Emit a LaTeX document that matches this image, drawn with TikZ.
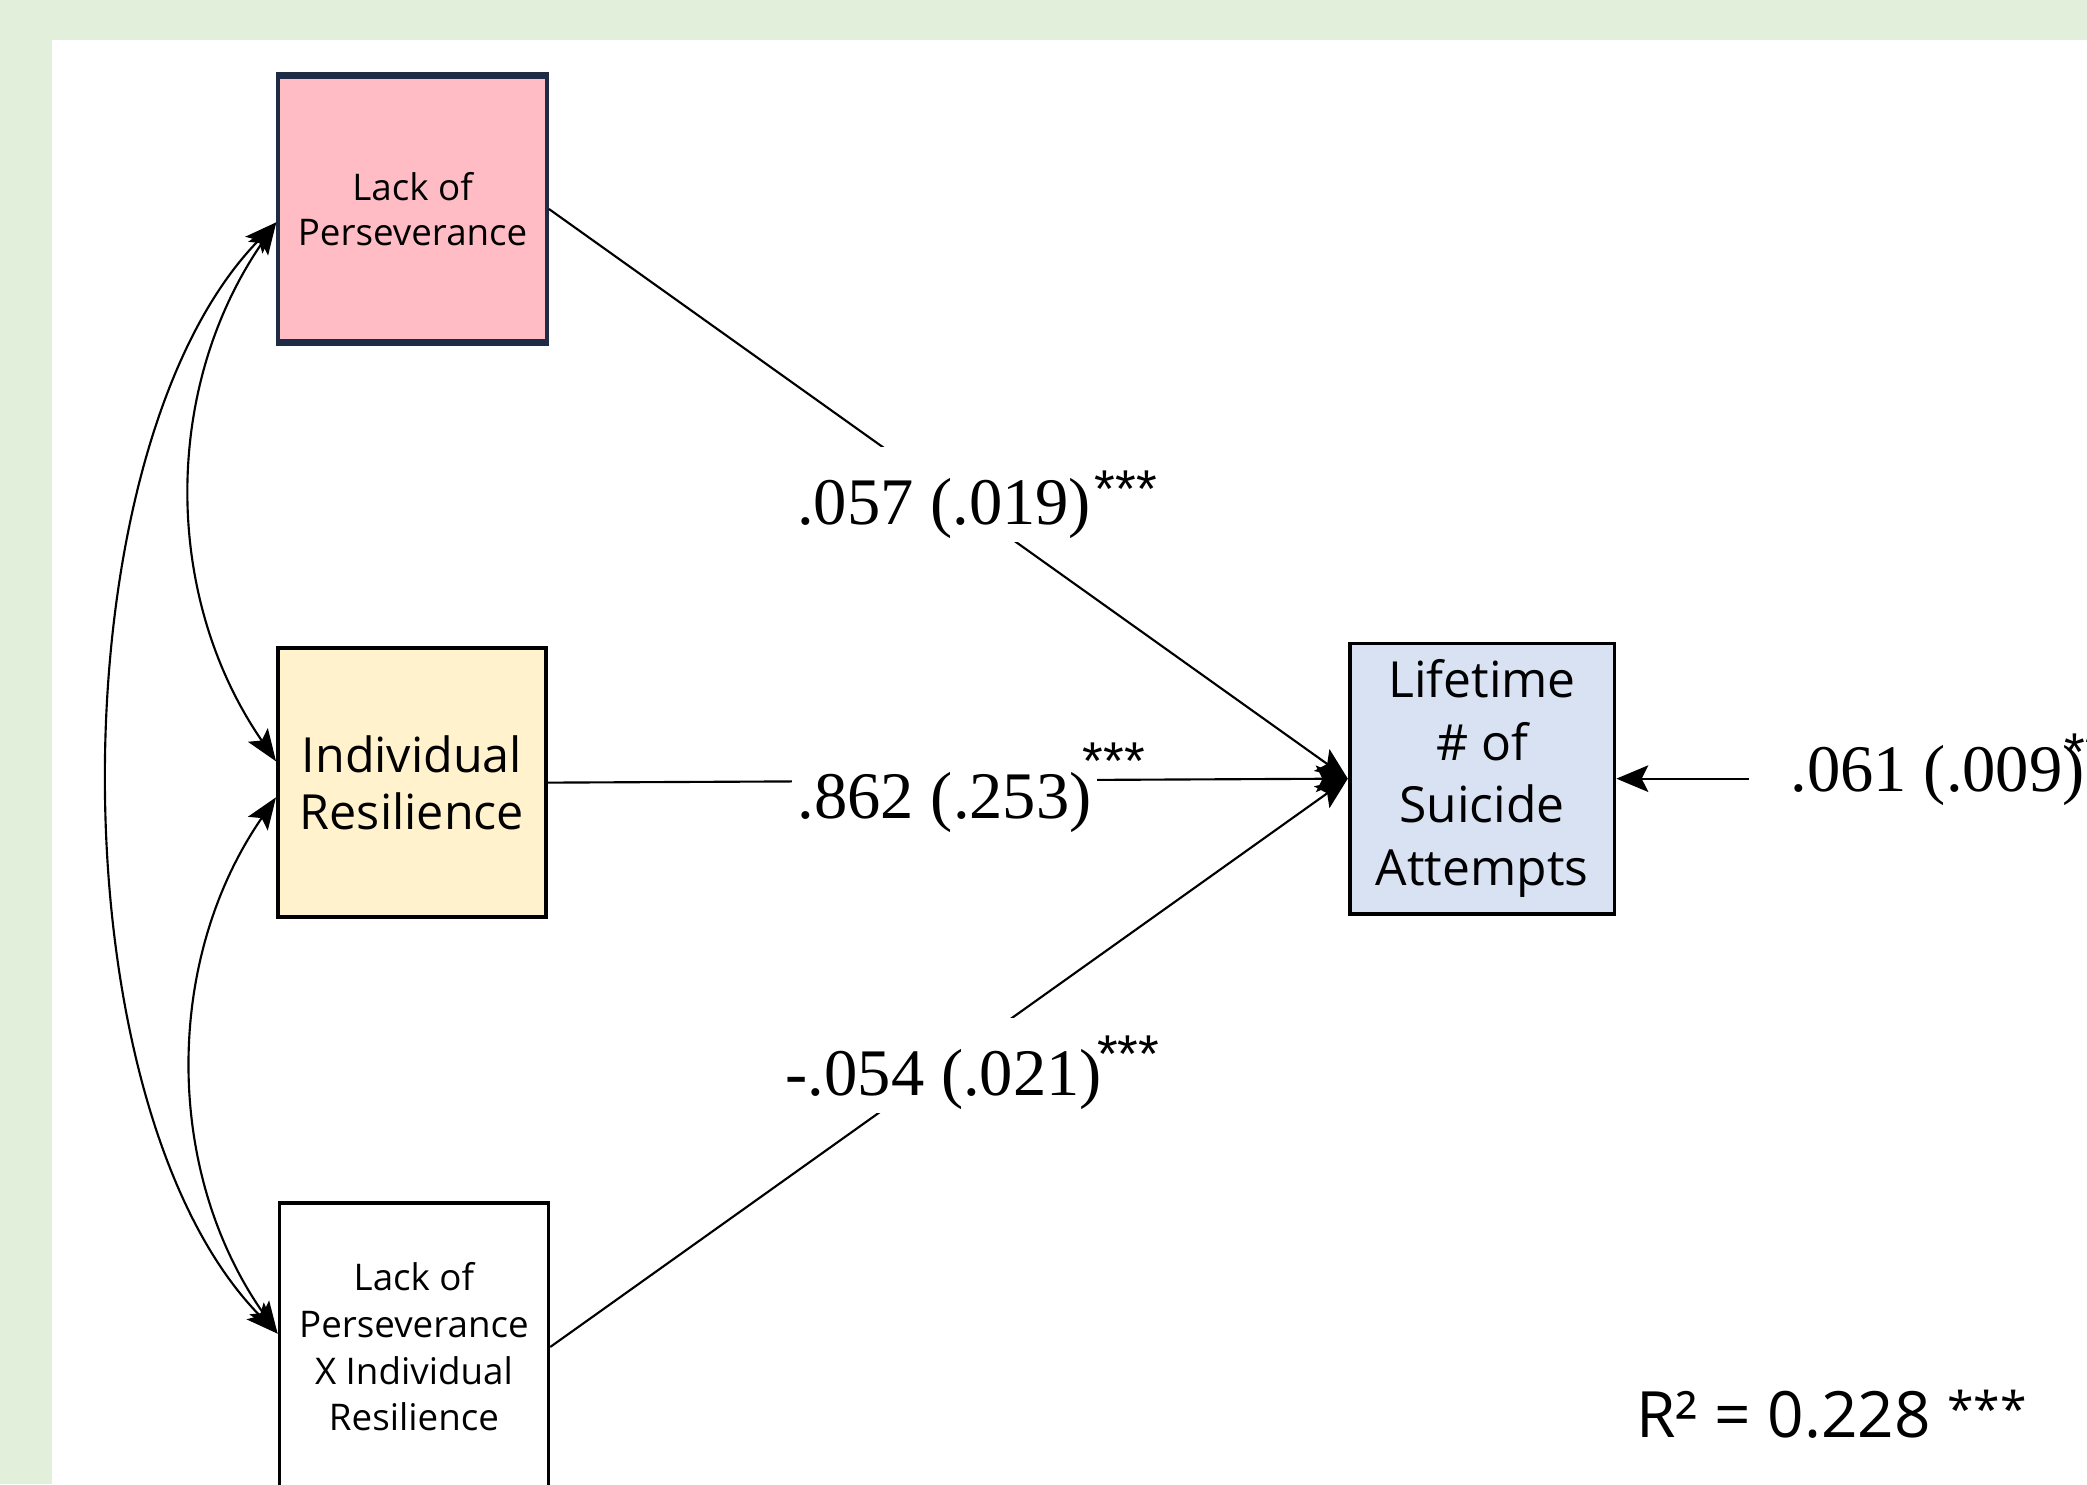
\documentclass[tikz,border=0pt]{standalone}
\usepackage{fontspec}
\setmainfont{Open Sans}
\newfontfamily\coeffont{Liberation Serif}
\newfontfamily\starfont{Liberation Sans}
\usetikzlibrary{arrows.meta,calc}

\definecolor{panelgreen}{HTML}{E2EFDA}
\definecolor{boxpink}{HTML}{FFBCC5}
\definecolor{boxyellow}{HTML}{FFF2CC}
\definecolor{boxblue}{HTML}{D9E2F3}
\definecolor{boxnavy}{HTML}{1F2A44}

\tikzset{
  varbox/.style={draw=black, line width=1.4pt, align=center, inner sep=0pt},
  regline/.style={line width=0.8pt, -{Stealth[length=12pt,width=10pt,inset=2.5pt]}},
  covline/.style={line width=0.8pt,
    {Stealth[length=12pt,width=9pt,inset=2.5pt]}-{Stealth[length=12pt,width=9pt,inset=2.5pt]}},
  coef/.style={font=\coeffont\fontsize{25}{30}\selectfont, inner xsep=2pt, inner ysep=0pt, anchor=base west},
  coefgap/.style={coef, fill=white, text height=29pt, text depth=6.5pt},
  stars/.style={font=\starfont\fontsize{20}{24}\selectfont, inner sep=0pt, anchor=base west},
}

\begin{document}
\begin{tikzpicture}[x=0.5pt,y=-0.5pt]
\useasboundingbox (0,0) rectangle (1568,1115);
\clip (0,0) rectangle (1568,1115);

% background and white panel
\fill[panelgreen] (0,0) rectangle (1568,1115);
\fill[white] (39,30) rectangle (1568,1115);

% observed variables
\node[varbox, draw=boxnavy, fill=boxpink, minimum width=101pt, minimum height=99pt,
      font=\fontsize{13.8}{17}\selectfont] (lp) at (310,157) {Lack of\\Perseverance};
\draw[boxnavy, line width=2.2pt] (lp.north west) -- (lp.north east);
\draw[boxnavy, line width=2.2pt] (lp.south west) -- (lp.south east);
\node[varbox, line width=1.6pt, fill=boxyellow, minimum width=100.5pt, minimum height=101pt,
      font=\fontsize{18.2}{21.5}\selectfont] (ir) at (309.5,588) {Individual\\Resilience};
\node[varbox, fill=white, minimum width=101pt, minimum height=108pt,
      font=\fontsize{13.8}{17.5}\selectfont] (int) at (311,1012)
      {Lack of\\Perseverance\\X Individual\\Resilience};
\node[varbox, fill=boxblue, minimum width=99.5pt, minimum height=101.5pt,
      font=\fontsize{18.7}{23.5}\selectfont] (lsa) at (1113.5,585)
      {Lifetime\\\# of\\Suicide\\Attempts};

% regression paths
\draw[regline] (lp.east) -- (lsa.west);
\draw[regline] (ir.east) -- (lsa.west);
\draw[regline] (int.east) -- (lsa.west);

% path coefficients
\node[coefgap] (c1) at (594.5,394) {.057 (.019)};
\node[stars] (s1) at (822,381) {***};
\node[coefgap, text height=18pt] (c2) at (595,615) {.862 (.253)};
\node[stars] (s2) at (813,586) {***};
\node[coefgap] (c3) at (586,823) {-.054 (.021)};
\node[stars] (s3) at (824,806) {***};

% residual
\node[coef, inner xsep=15.5pt] (res) at (1314,595) {.061 (.009)};
\node[stars] (s4) at (1551,579) {***};
\draw[regline] (res.west |- lsa.east) -- (lsa.east);

% covariances among predictors
\draw[covline] ($(lp.west)+(0,10)$) .. controls (122,291) and (122,448) .. ($(ir.west)+(0,-16)$);
\draw[covline] ($(lp.west)+(0,10)$) .. controls (40,338) and (40,831) .. ($(int.west)+(0,-10)$);
\draw[covline] ($(ir.west)+(0,11)$) .. controls (123,721) and (123,880) .. ($(int.west)+(0,-10)$);

% explained variance
\node[font=\fontsize{24}{28}\selectfont, inner sep=0pt, anchor=base west] (rsq) at (1229,1080)
      {R² = 0.228 \raisebox{4pt}{\fontsize{18}{20}\selectfont ***}};
\end{tikzpicture}
\end{document}
